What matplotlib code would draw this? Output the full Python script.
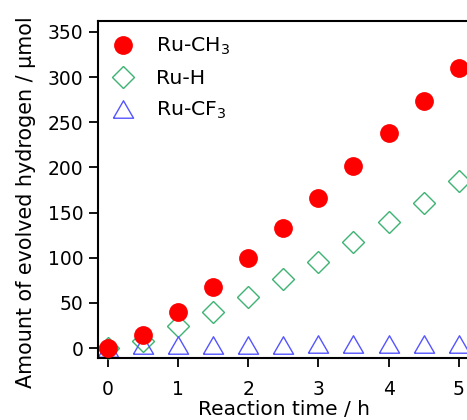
import numpy as np
import matplotlib
matplotlib.use("Agg")
import matplotlib.pyplot as plt

# data
time_h = [0, 0.5, 1, 1.5, 2, 2.5, 3, 3.5, 4, 4.5, 5]
ru_ch3 = [0, 15, 40, 68, 100, 133, 166, 202, 238, 273, 310]
ru_h = [0, 8, 24, 40, 57, 76, 95, 117, 139, 161, 185]
ru_cf3 = [0, 3, 3, 3, 3, 3.5, 4, 4, 4.5, 4.5, 5]

plt.rcParams['font.family'] = ['DejaVu Sans']
plt.rcParams['mathtext.fontset'] = 'dejavusans'

fig = plt.figure(figsize=(4.67, 4.20), dpi=100)
ax = fig.add_axes([98/467, 62/420, 372/467, 337/420])

tri = [(-1, -0.866), (1, -0.866), (0, 0.866), (-1, -0.866)]

ax.plot(time_h, ru_ch3, ls='none', marker='o', ms=12.5, color='#ff0000',
        mec='#ff0000', label='Ru-CH$_3$', clip_on=False, zorder=3)
ax.plot(time_h, ru_h, ls='none', marker='D', ms=11.5, mfc='none',
        mec='#3cb371', mew=1.0, label='Ru-H', clip_on=False, zorder=2)
ax.plot(time_h, ru_cf3, ls='none', marker=tri, ms=14.5, mfc='none',
        mec='#5555ff', mew=1.0, label='Ru-CF$_3$', clip_on=False, zorder=2)

ax.set_xlim(-0.14, 5.16)
ax.set_ylim(-11, 362)
ax.set_xticks([0, 1, 2, 3, 4, 5])
ax.set_yticks([0, 50, 100, 150, 200, 250, 300, 350])

for s in ax.spines.values():
    s.set_linewidth(1.5)
ax.tick_params(axis='both', direction='out', length=6.5, width=1.3,
               labelsize=13.5)
ax.tick_params(axis='x', pad=9)
ax.tick_params(axis='y', pad=4)

ax.set_xlabel('Reaction time / h', fontsize=14.5, labelpad=1)
ax.set_ylabel('Amount of evolved hydrogen / \u03bcmol', fontsize=14.9)
ax.yaxis.set_label_coords(-0.167, 0.463)

ax.legend(loc='upper left', bbox_to_anchor=(0.0134, 0.955), frameon=False,
          fontsize=14.7, handletextpad=0.6, labelspacing=0.58,
          borderaxespad=0, borderpad=0)

fig.savefig('out.png', dpi=100)
